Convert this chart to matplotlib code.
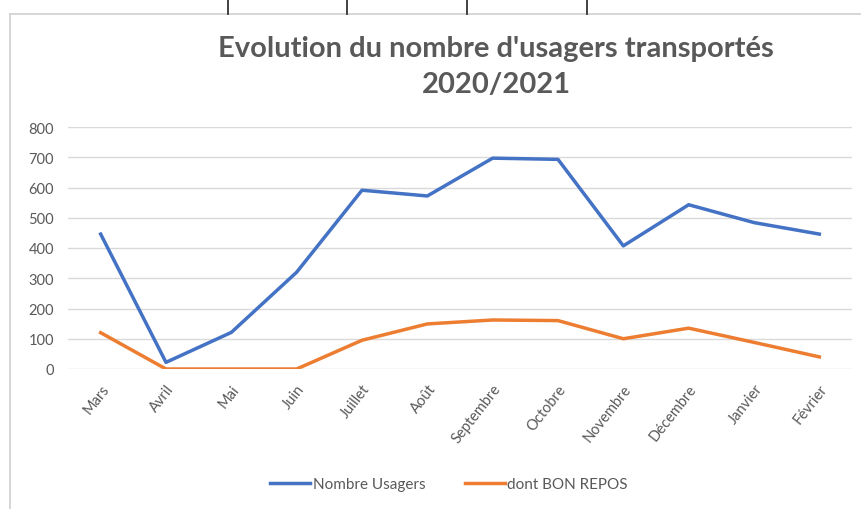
import matplotlib.pyplot as plt
from matplotlib.lines import Line2D

mois = ["Mars", "Avril", "Mai", "Juin", "Juillet", "Août", "Septembre",
        "Octobre", "Novembre", "Décembre", "Janvier", "Février"]
usagers = [446, 22, 121, 320, 591, 572, 697, 693, 407, 543, 484, 446]
bon_repos = [120, 0, 0, 0, 95, 149, 162, 160, 100, 135, 88, 40]
y_ticks = [0, 100, 200, 300, 400, 500, 600, 700, 800]

gris = "#595959"
plt.rcParams['font.family'] = ['Lato', 'DejaVu Sans']

fig = plt.figure(figsize=(8.62, 5.10), dpi=100)
fig.patch.set_facecolor("white")

# cadre du graphique et traits du tableau au-dessus
W, H = 862, 510
fig.add_artist(Line2D([10 / W, 10 / W], [0, 1 - 15 / H], color="#d0d0d0", lw=1.2))
fig.add_artist(Line2D([10 / W, 1], [1 - 15 / H, 1 - 15 / H], color="#d0d0d0", lw=1.2))
for x in [228, 347, 467, 587]:
    fig.add_artist(Line2D([x / W, x / W], [1 - 15 / H, 1], color="#333333", lw=1.3))

ax = fig.add_axes([68 / W, (H - 370) / H, (852 - 68) / W, (370 - 128) / H])
x = range(len(mois))
ax.plot(x, usagers, color="#4472C4", lw=2.5, label="Nombre Usagers", solid_joinstyle="round")
ax.plot(x, bon_repos, color="#ED7D31", lw=2.5, label="dont BON REPOS", solid_joinstyle="round")

ax.set_xlim(-0.5, len(mois) - 0.5)
ax.set_ylim(0, 800)
ax.set_yticks(y_ticks)
ax.set_yticklabels([str(v) for v in y_ticks], color=gris, fontsize=10.5)
ax.set_xticks(list(x))
ax.set_xticklabels(mois, rotation=52, ha="right", rotation_mode="anchor",
                   color=gris, fontsize=10.5)
ax.tick_params(axis="y", length=0, pad=10)
ax.tick_params(axis="x", length=0, pad=9)
ax.grid(axis="y", color="#d9d9d9", lw=1)
ax.set_axisbelow(True)
for s in ax.spines.values():
    s.set_visible(False)

fig.text(496 / W, 1 - 67 / H, "Evolution du nombre d'usagers transportés\n2020/2021",
         ha="center", va="center", fontsize=21, fontweight="bold", color=gris,
         linespacing=1.5)

fig.legend(loc="center", bbox_to_anchor=(449 / W, 1 - 485 / H), ncol=2, frameon=False,
           fontsize=11, labelcolor=gris, handlelength=2.6, handletextpad=0.15,
           columnspacing=2.6)

fig.savefig("out.png", dpi=100)
